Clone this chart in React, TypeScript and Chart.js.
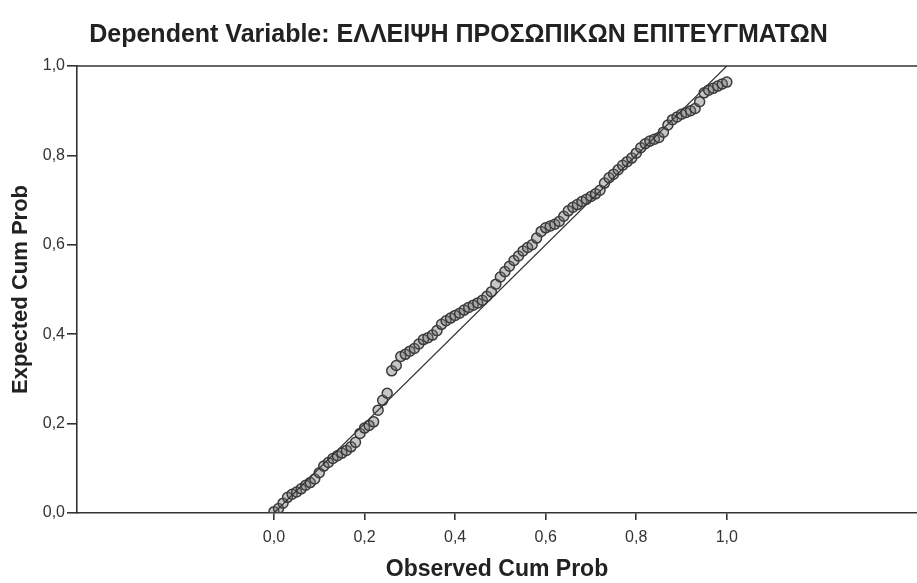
import React, { useEffect, useRef } from "react";
import { Chart, registerables } from "chart.js";

Chart.register(...registerables);

const titleText = "Dependent Variable: ΕΛΛΕΙΨΗ ΠΡΟΣΩΠΙΚΩΝ ΕΠΙΤΕΥΓΜΑΤΩΝ";
const xAxisTitle = "Observed Cum Prob";
const yAxisTitle = "Expected Cum Prob";
const xTickValues = [0, 0.2, 0.4, 0.6, 0.8, 1.0];

const observed = [
  0.0, 0.01, 0.02, 0.03, 0.04, 0.05, 0.06, 0.07, 0.08, 0.09,
  0.1, 0.11, 0.12, 0.13, 0.14, 0.15, 0.16, 0.17, 0.18, 0.19,
  0.2, 0.21, 0.22, 0.23, 0.24, 0.25, 0.26, 0.27, 0.28, 0.29,
  0.3, 0.31, 0.32, 0.33, 0.34, 0.35, 0.36, 0.37, 0.38, 0.39,
  0.4, 0.41, 0.42, 0.43, 0.44, 0.45, 0.46, 0.47, 0.48, 0.49,
  0.5, 0.51, 0.52, 0.53, 0.54, 0.55, 0.56, 0.57, 0.58, 0.59,
  0.6, 0.61, 0.62, 0.63, 0.64, 0.65, 0.66, 0.67, 0.68, 0.69,
  0.7, 0.71, 0.72, 0.73, 0.74, 0.75, 0.76, 0.77, 0.78, 0.79,
  0.8, 0.81, 0.82, 0.83, 0.84, 0.85, 0.86, 0.87, 0.88, 0.89,
  0.9, 0.91, 0.92, 0.93, 0.94, 0.95, 0.96, 0.97, 0.98, 0.99, 1.0,
];

const expected = [
  0.003, 0.01, 0.022, 0.035, 0.042, 0.047, 0.054, 0.062, 0.068, 0.076,
  0.09, 0.105, 0.113, 0.122, 0.128, 0.134, 0.14, 0.148, 0.158, 0.178,
  0.19, 0.196, 0.204, 0.23, 0.252, 0.268, 0.318, 0.33, 0.35, 0.355,
  0.362, 0.368, 0.378, 0.388, 0.392, 0.398, 0.408, 0.422, 0.43, 0.436,
  0.442, 0.447, 0.454, 0.46, 0.465, 0.47, 0.476, 0.485, 0.495, 0.512,
  0.528, 0.54, 0.552, 0.565, 0.575, 0.586, 0.594, 0.6, 0.615, 0.63,
  0.638, 0.642, 0.646, 0.652, 0.664, 0.676, 0.684, 0.69, 0.697, 0.702,
  0.708, 0.714, 0.722, 0.738, 0.75, 0.758, 0.768, 0.778, 0.786, 0.794,
  0.805, 0.817, 0.826, 0.832, 0.836, 0.84, 0.852, 0.868, 0.88, 0.886,
  0.892, 0.896, 0.9, 0.905, 0.92, 0.94, 0.946, 0.95, 0.955, 0.96, 0.964,
];

const refLineX = [0, 1];
const refLineY = [0, 1];

const fmt = (v: number) => v.toFixed(1).replace(".", ",");

export default function App() {
  const ref = useRef<HTMLCanvasElement | null>(null);

  useEffect(() => {
    if (!ref.current) return;
    const topBorder = {
      id: "topBorder",
      afterDatasetsDraw(chart: any) {
        const { ctx, chartArea } = chart;
        ctx.save();
        ctx.strokeStyle = "#333";
        ctx.lineWidth = 1.6;
        ctx.beginPath();
        ctx.moveTo(chartArea.left, chartArea.top);
        ctx.lineTo(chartArea.right, chartArea.top);
        ctx.stroke();
        ctx.restore();
      },
    };
    const chart = new Chart(ref.current, {
      type: "scatter",
      data: {
        datasets: [
          {
            type: "line",
            data: refLineX.map((x, i) => ({ x, y: refLineY[i] })),
            borderColor: "#333",
            borderWidth: 1.2,
            pointRadius: 0,
            fill: false,
          } as any,
          {
            data: observed.map((x, i) => ({ x, y: expected[i] })),
            pointRadius: 5,
            pointBorderWidth: 1.5,
            borderColor: "#3a3a3a",
            backgroundColor: "rgba(115,115,115,0.4)",
          },
        ],
      },
      options: {
        responsive: false,
        animation: false,
        layout: { padding: 0, autoPadding: false },
        plugins: {
          legend: { display: false },
          tooltip: { enabled: false },
          title: {
            display: true,
            text: titleText,
            color: "#222",
            font: { family: "Liberation Sans, Arial", size: 25, weight: "bold" },
            padding: { top: 20, bottom: 16 },
          },
        },
        scales: {
          x: {
            type: "linear",
            min: -0.435,
            max: 1.42,
            afterBuildTicks: (s: any) => {
              s.ticks = xTickValues.map((v) => ({ value: v }));
            },
            afterFit: (s: any) => {
              s.height = 70;
              s.paddingLeft = 0;
              s.paddingRight = 0;
            },
            ticks: {
              callback: (v: any) => fmt(Number(v)),
              color: "#333",
              font: { family: "Liberation Sans, Arial", size: 16 },
              padding: 8,
              maxRotation: 0,
            },
            grid: { drawOnChartArea: false, drawTicks: true, tickLength: 7, color: "#333", lineWidth: 1.6 },
            border: { display: true, color: "#333", width: 1.6 },
            title: {
              display: true,
              text: xAxisTitle,
              color: "#222",
              font: { family: "Liberation Sans, Arial", size: 23, weight: "bold" },
              padding: { top: 0, bottom: 0 },
            },
          },
          y: {
            type: "linear",
            min: 0,
            max: 1,
            afterFit: (s: any) => {
              s.width = 77;
            },
            ticks: {
              stepSize: 0.2,
              callback: (v: any) => fmt(Number(v)),
              color: "#333",
              font: { family: "Liberation Sans, Arial", size: 16 },
              padding: 2,
            },
            grid: { drawOnChartArea: false, drawTicks: true, tickLength: 10, color: "#333", lineWidth: 1.6 },
            border: { display: true, color: "#333", width: 1.6 },
            title: {
              display: true,
              text: yAxisTitle,
              color: "#222",
              font: { family: "Liberation Sans, Arial", size: 22, weight: "bold" },
              padding: { top: 8, bottom: 0 },
            },
          },
        },
      },
      plugins: [topBorder],
    });
    return () => chart.destroy();
  }, []);

  return (
    <div style={{ position: "absolute", left: 0, top: 0, width: 917, height: 583, background: "#fff" }}>
      <canvas ref={ref} width={917} height={583} style={{ display: "block" }} />
    </div>
  );
}
